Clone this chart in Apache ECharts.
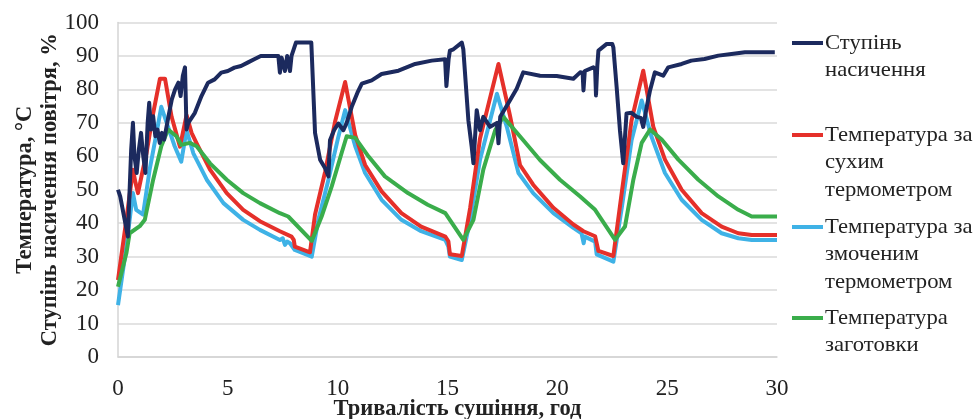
<!DOCTYPE html>
<html>
<head>
<meta charset="utf-8">
<script src="https://cdn.jsdelivr.net/npm/echarts@6/dist/echarts.min.js"></script>
<style>html,body{margin:0;padding:0;background:#fff;}#c{width:979px;height:419px;}</style>
</head>
<body>
<div id="c"></div>
<script>
// ---- data (hours, value) ----
var seriesNames = ['Ступінь\nнасичення', 'Температура за\nсухим\nтермометром', 'Температура за\nзмоченим\nтермометром', 'Температура\nзаготовки'];
var xTicks = [0, 5, 10, 15, 20, 25, 30];
var yTicks = [0, 10, 20, 30, 40, 50, 60, 70, 80, 90, 100];

var saturation = [[0.0,50],[0.1,48],[0.45,36],[0.5,45],[0.6,62],[0.68,70],[0.75,60],[0.85,55],[0.95,62],[1.05,67],[1.15,60],[1.25,55],[1.35,70],[1.42,76],[1.5,68],[1.6,72],[1.7,66],[1.8,68],[1.9,64],[2.0,67],[2.1,65],[2.3,72],[2.45,77],[2.6,80],[2.75,82],[2.85,78],[2.95,84],[3.05,86.6],[3.12,68],[3.2,70],[3.5,73],[3.8,78],[4.1,82],[4.4,83],[4.7,85],[5.0,85.5],[5.3,86.5],[5.6,87],[5.9,88],[6.2,89],[6.5,90],[7.0,90],[7.3,90],[7.37,85],[7.45,89.5],[7.6,85.5],[7.7,90],[7.83,85.5],[7.9,90],[8.1,94],[8.8,94],[8.97,67],[9.2,59],[9.43,56.4],[9.58,54],[9.65,64.8],[9.85,68],[10.03,69.8],[10.26,67.8],[10.41,70],[10.64,74.8],[10.9,79],[11.1,81.7],[11.55,82.7],[12.0,84.6],[12.77,85.6],[13.53,87.6],[14.28,88.6],[14.89,89],[14.95,81],[15.05,89],[15.11,91.6],[15.27,92],[15.65,94],[15.72,92],[15.95,70.8],[16.1,62.9],[16.18,57.9],[16.33,73.8],[16.48,67.8],[16.63,71.8],[16.94,68.8],[17.25,70],[17.32,63.9],[17.4,71.8],[17.84,76.7],[18.15,80.2],[18.45,85.1],[19.21,84.1],[19.97,84],[20.73,83.2],[21.04,85.1],[21.15,85],[21.19,79.7],[21.25,85.5],[21.64,86.6],[21.72,86],[21.76,78.2],[21.82,87],[21.87,91.6],[22.25,93.6],[22.5,93.6],[22.55,92.6],[22.7,80.7],[22.85,67.8],[23.0,57.9],[23.15,72.8],[23.38,73],[23.61,71.8],[23.8,71.5],[23.91,68.8],[24.07,74.8],[24.22,79.7],[24.44,85.1],[24.82,84.1],[25.05,86.6],[25.66,87.6],[26.1,88.6],[26.7,89.1],[27.33,90.1],[27.93,90.6],[28.54,91.1],[29.15,91.1],[29.9,91.1]];

var dryBulb = [[0,23],[0.38,41],[0.68,56],[0.8,52],[0.91,49],[1.1,55],[1.3,61],[1.6,72.8],[1.91,83.2],[2.14,83.2],[2.44,71.8],[2.82,62.9],[3.12,72.3],[3.35,67],[3.58,63.9],[4.19,56],[4.95,49],[5.7,44],[6.46,40.6],[7.37,37.6],[7.9,36],[8.0,35],[8.05,33],[8.74,31.3],[8.97,42.6],[9.43,55.4],[9.88,70.3],[10.34,82.2],[10.8,66.3],[11.25,57.4],[12,49.5],[12.9,43],[13.8,39],[14.9,36],[15.04,34.6],[15.11,30.7],[15.65,30.2],[16.03,44.5],[16.48,65.3],[17.32,87.6],[17.84,72.3],[18.3,57.4],[18.9,51.5],[19.82,44.6],[20.73,39.6],[21.19,37.6],[21.72,36.1],[21.87,31.7],[22.55,30.2],[22.93,49],[23.38,70.8],[23.91,85.6],[24.37,68.8],[24.9,59],[25.66,50],[26.57,43],[27.48,39],[28.24,37],[28.85,36.5],[30,36.5]];

var wetBulb = [[0,15.5],[0.38,33],[0.68,49],[0.83,44],[1.14,42.6],[1.44,56],[1.75,66.8],[1.97,74.8],[2.28,68.8],[2.58,63],[2.88,58.4],[3.12,67.8],[3.43,60.9],[4.04,53],[4.8,46],[5.7,41],[6.46,38],[7.37,35],[7.5,35.5],[7.6,33.5],[7.7,34.5],[7.83,34],[8.05,32],[8.82,30],[9.12,41],[9.58,53],[10.03,65.8],[10.34,73.8],[10.8,63],[11.25,55],[12,47],[12.9,41],[13.8,37.6],[14.9,35],[15.04,33],[15.11,30],[15.65,29],[16.03,41],[16.48,59],[17.25,78.7],[17.7,68.8],[18.23,55],[18.9,49],[19.82,43],[20.73,38.6],[21.1,37],[21.2,34],[21.25,36],[21.72,34.5],[21.79,30.7],[22.55,28.5],[22.93,44.5],[23.38,64.8],[23.84,76.7],[24.29,65.8],[24.9,55],[25.66,47],[26.57,41],[27.48,37],[28.24,35.5],[28.85,35],[30,35]];

var workpiece = [[0,21],[0.38,31],[0.53,37],[0.99,39.1],[1.22,41],[1.6,53],[1.97,63],[2.28,68],[2.66,66],[2.88,63.4],[3.27,64],[3.58,63],[4.19,57.9],[4.95,53],[5.7,49],[6.46,46],[7.37,43],[7.75,42],[8.82,34.7],[9.27,42],[9.73,51],[10.18,61],[10.41,66],[10.8,65.5],[11.4,60],[12.15,54],[13.2,49],[14.1,45.5],[14.9,43],[15.72,35],[16.18,41],[16.63,56],[17.17,67.8],[17.54,71.8],[18.45,64.8],[19.21,58.9],[20.12,53],[21.04,48],[21.72,44],[22.63,35],[23.08,39],[23.46,53],[23.84,64],[24.22,68],[24.75,65],[25.51,59],[26.42,53],[27.33,48],[28.24,44],[28.85,42],[30,42]];

// ---- styling ----
var colors = ['#1c2a5e', '#e5302a', '#3fb2e6', '#3aad4b'];
var font = 'Liberation Serif';
var dataSets = [saturation, dryBulb, wetBulb, workpiece];

var chart = echarts.init(document.getElementById('c'), null, {renderer: 'canvas'});

var legendGraphics = [];
var legendTops = [43, 135, 227, 318];
seriesNames.forEach(function (name, i) {
  legendGraphics.push({
    type: 'line', shape: {x1: 792, y1: legendTops[i], x2: 823, y2: legendTops[i]},
    style: {stroke: colors[i], lineWidth: 4}
  });
  name.split('\n').forEach(function (ln, j) {
    legendGraphics.push({
      type: 'text', x: 825, y: legendTops[i] + j * 27.8, scaleX: 1.08,
      style: {text: ln, font: '21px "' + font + '"', fill: '#222', textVerticalAlign: 'middle', textAlign: 'left'}
    });
  });
});

chart.setOption({
  animation: false,
  backgroundColor: '#fff',
  grid: {left: 118, right: 202, top: 22.5, bottom: 62, containLabel: false, outerBoundsMode: 'none'},
  xAxis: {
    type: 'value', min: 0, max: 30, interval: 5,
    name: 'Тривалість сушіння, год', nameLocation: 'middle', nameGap: 41, nameMoveOverlap: false,
    nameTextStyle: {fontFamily: font, fontWeight: 'bold', fontSize: 22.5, color: '#222', verticalAlign: 'top', padding: [0, 0, 0, 20]},
    axisLine: {show: true, lineStyle: {color: '#d4d4d4', width: 1.5}},
    axisTick: {show: false},
    splitLine: {show: false},
    axisLabel: {fontFamily: font, fontSize: 23, color: '#222', margin: 20,
      formatter: function (v) { return xTicks.indexOf(v) >= 0 ? String(v) : ''; }}
  },
  yAxis: {
    type: 'value', min: 0, max: 100, interval: 10,
    name: 'Температура, °C\nСтупінь насичення повітря, %', nameLocation: 'middle', nameGap: 55, nameRotate: 90, nameMoveOverlap: false,
    nameTextStyle: {fontFamily: font, fontWeight: 'bold', fontSize: 22.5, color: '#222', lineHeight: 25},
    axisLine: {show: true, lineStyle: {color: '#d4d4d4', width: 1.5}},
    axisTick: {show: false},
    splitLine: {show: true, lineStyle: {color: '#dadada', width: 1.5}},
    axisLabel: {fontFamily: font, fontSize: 23, color: '#222', margin: 19,
      formatter: function (v) { return yTicks.indexOf(v) >= 0 ? String(v) : ''; }}
  },
  graphic: legendGraphics,
  series: dataSets.map(function (d, i) {
    return {
      name: seriesNames[i].replace(/\n/g, ' '), type: 'line', data: d, showSymbol: false, symbol: 'none',
      lineStyle: {color: colors[i], width: 4, join: 'round'}, itemStyle: {color: colors[i]},
      z: [5, 3, 2, 4][i]
    };
  })
});
</script>
</body>
</html>
